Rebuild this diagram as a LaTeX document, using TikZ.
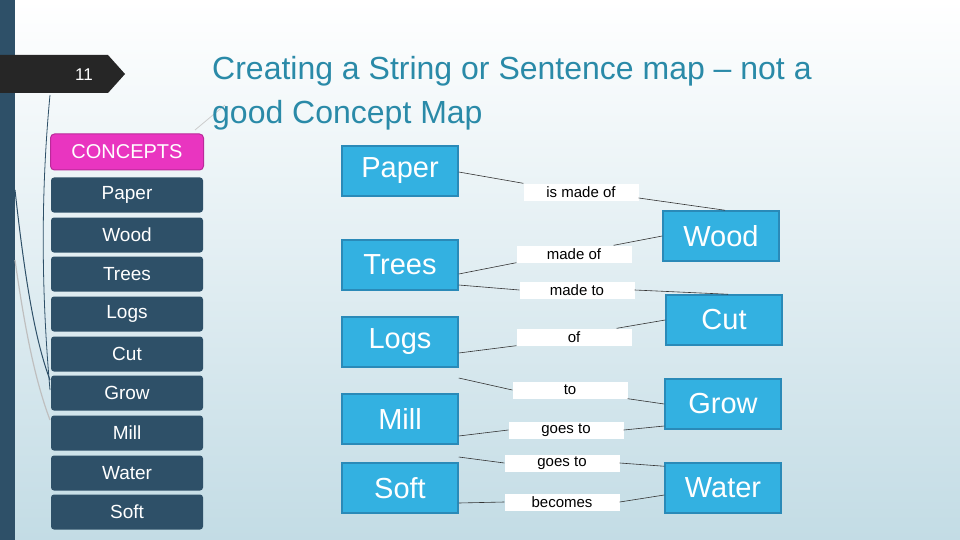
\documentclass[tikz,border=0pt]{standalone}
\usepackage{fontspec}
\setmainfont{Liberation Sans}
\usetikzlibrary{calc,shapes.geometric}
\definecolor{dark}{HTML}{2E5068}
\definecolor{mag}{HTML}{E935C0}
\definecolor{blu}{HTML}{33B1E1}
\definecolor{blub}{HTML}{2A8AB8}
\definecolor{ttl}{HTML}{2A8AA8}
\definecolor{bgb}{HTML}{C3DCE5}
\begin{document}
\begin{tikzpicture}[x=1pt,y=-1pt,
  side/.style={draw=none,fill=dark,rounded corners=3pt,minimum width=152pt,minimum height=35pt,text=white,font=\fontsize{19}{22}\selectfont,inner sep=0pt},
  cbox/.style={draw=blub,line width=1.5pt,fill=blu,minimum width=116pt,minimum height=50pt,text=white,font=\fontsize{29}{32}\selectfont,inner sep=0pt},
  lab/.style={fill=white,minimum width=115pt,minimum height=17pt,inner sep=0pt,font=\fontsize{15}{17}\selectfont},
  con/.style={draw=black!80,line width=0.6pt}]
\useasboundingbox (0,0) rectangle (960,540);
\shade[top color=white,bottom color=bgb] (0,0) rectangle (960,540);
\fill[dark] (0,0) rectangle (15,540);
% decorative curves
\draw[dark,line width=0.8pt] (50,95) .. controls (40,200) and (42,300) .. (50,390);
\draw[dark,line width=1pt] (15,190) .. controls (25,280) and (35,340) .. (50,380);
\draw[gray!50,line width=1.2pt] (15,260) .. controls (25,330) and (35,380) .. (50,420);
\draw[gray!40,line width=0.8pt] (195,130) -- (225,105);
% tab
\node[fill=black!85,draw=none,minimum width=1pt] (tab) at (60,74) {};
\fill[black!85] (0,55) -- (108,55) -- (125,74) -- (108,93) -- (0,93) -- cycle;
\node[text=white,font=\fontsize{17}{20}\selectfont] (num) at (84,75) {11};
\node[anchor=north west,text=ttl,font=\fontsize{32}{44}\selectfont,align=left,inner sep=0pt] (title) at (212,56) {Creating a String or Sentence map -- not a\\good Concept Map};
% left list
\node[draw=mag!80!black,line width=1pt,fill=mag,rounded corners=4pt,minimum width=153pt,minimum height=36pt,text=white,font=\fontsize{20}{24}\selectfont,inner sep=0pt] (concepts) at (127,152) {CONCEPTS};
\node[side] (lp) at (127,195) {Paper};
\node[side] (lw) at (127,235) {Wood};
\node[side] (lt) at (127,274) {Trees};
\node[side] (ll) at (127,314) {Logs};
\node[side] (lc) at (127,354) {Cut};
\node[side] (lg) at (127,393) {Grow};
\node[side] (lm) at (127,433) {Mill};
\node[side] (lwa) at (127,473) {Water};
\node[side] (ls) at (127,512) {Soft};
% concept boxes
\node[cbox] (paper) at (400,171) {Paper};
\node[cbox] (trees) at (400,265) {Trees};
\node[cbox] (logs) at (400,342) {Logs};
\node[cbox] (mill) at (400,419) {Mill};
\node[cbox] (soft) at (400,488) {Soft};
\node[cbox] (wood) at (721,236) {Wood};
\node[cbox] (cut) at (724,320) {Cut};
\node[cbox] (grow) at (723,404) {Grow};
\node[cbox] (water) at (723,488) {Water};
% labels
\node[lab] (l1) at (581,192) {is made of};
\node[lab] (l2) at (574,254) {made of};
\node[lab] (l3) at (577,290) {made to};
\node[lab] (l4) at (574,337) {of};
\node[lab] (l5) at (570,390) {to};
\node[lab] (l6) at (566,430) {goes to};
\node[lab] (l7) at (562,463) {goes to};
\node[lab] (l8) at (562,502) {becomes};
% connectors
\draw[con] ($(paper.east)+(0,1)$) -- ($(l1.north west)$);
\draw[con] ($(l1.east)+(0,6)$) -- ($(wood.north)+(4,0)$);
\draw[con] ($(trees.east)+(0,9)$) -- ($(l2.south west)$);
\draw[con] ($(l2.north east)+(-18,0)$) -- (wood.west);
\draw[con] ($(trees.east)+(0,20)$) -- (l3.west);
\draw[con] (l3.east) -- ($(cut.north)+(4,0)$);
\draw[con] ($(logs.east)+(0,11)$) -- (l4.south west);
\draw[con] ($(l4.north east)+(-15,0)$) -- (cut.west);
\draw[con] ($(logs.east)+(0,36)$) -- (l5.west);
\draw[con] (l5.south east) -- (grow.west);
\draw[con] ($(mill.east)+(0,17)$) -- (l6.west);
\draw[con] (l6.east) -- ($(grow.west)+(0,22)$);
\draw[con] ($(mill.east)+(0,38)$) -- (l7.west);
\draw[con] (l7.east) -- ($(water.north west)+(0,4)$);
\draw[con] ($(soft.east)+(0,15)$) -- (l8.west);
\draw[con] (l8.east) -- ($(water.west)+(0,7)$);
\end{tikzpicture}
\end{document}
